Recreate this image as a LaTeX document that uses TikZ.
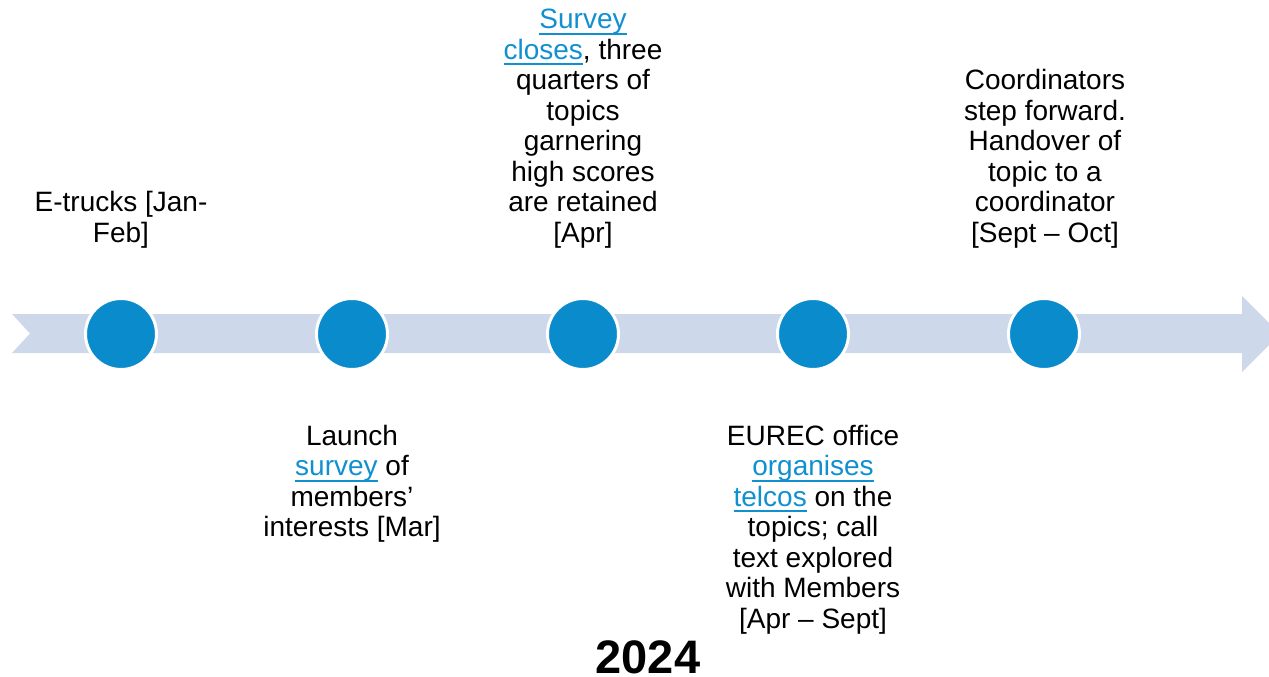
\documentclass[tikz,border=0pt]{standalone}
\usepackage{fontspec}
\setmainfont{Liberation Sans}
\definecolor{arrowc}{HTML}{CDD9EA}
\definecolor{dotc}{HTML}{0A8BCB}
\definecolor{linkc}{HTML}{1190D0}
\newcommand\lnk[1]{\leavevmode\setbox0\hbox{#1}\rlap{\textcolor{linkc}{\rule[-5.8pt]{\wd0}{2.2pt}}}\textcolor{linkc}{#1}}
\begin{document}
\begin{tikzpicture}[x=1pt,y=-1pt,
  txt/.style={font=\fontsize{28}{30.5}\selectfont, align=center, inner sep=0pt},
  dot/.style={circle, fill=dotc, draw=white, line width=3pt, minimum size=71pt, inner sep=0pt}]
\useasboundingbox (0,0) rectangle (1269,677);
\begin{scope}
\clip (0,0) rectangle (1269,677);
\fill[arrowc] (12,314) -- (1242,314) -- (1242,296) -- (1280,334) -- (1242,372) -- (1242,353) -- (12,353) -- (30,333.5) -- cycle;
\end{scope}
\node[dot] (d1) at (121,334) {};
\node[dot] (d2) at (352,334) {};
\node[dot] (d3) at (583,334) {};
\node[dot] (d4) at (813,334) {};
\node[dot] (d5) at (1044,334) {};
\node[txt, anchor=south] (t1) at (121,248.5) {E-trucks [Jan-\\Feb]};
\node[txt, anchor=south] (t3) at (583,248.5) {\lnk{Survey}\\\lnk{closes}, three\\quarters of\\topics\\garnering\\high scores\\are retained\\{[Apr]}};
\node[txt, anchor=south] (t5) at (1045,248.5) {Coordinators\\step forward.\\Handover of\\topic to a\\coordinator\\{[Sept – Oct]}};
\node[txt, anchor=north] (b2) at (352,425) {Launch\\\lnk{survey} of\\members’\\interests [Mar]};
\node[txt, anchor=north] (b4) at (813,425) {EUREC office\\\lnk{organises}\\\lnk{telcos} on the\\topics; call\\text explored\\with Members\\{[Apr – Sept]}};
\node[font=\fontsize{47}{50}\selectfont\bfseries, anchor=base, inner sep=0pt] (yr) at (648,673) {2024};
\end{tikzpicture}
\end{document}
